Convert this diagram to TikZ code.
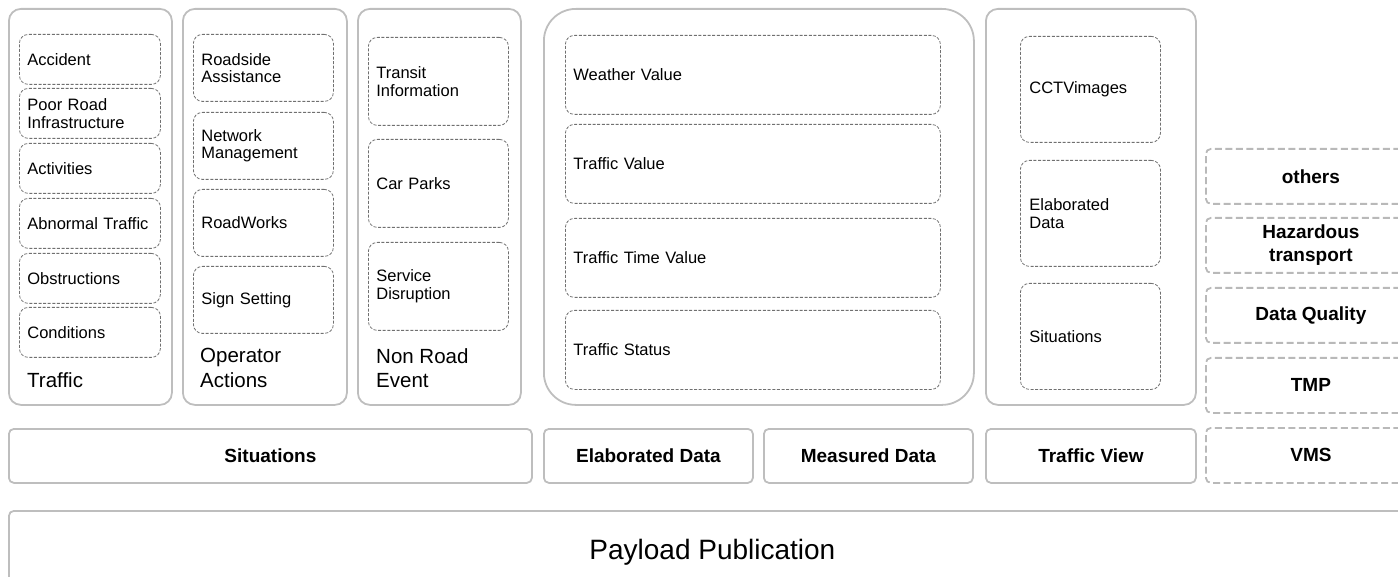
\documentclass[tikz,border=0pt]{standalone}
\usepackage{fontspec}
\setmainfont{Liberation Sans}
\definecolor{framegray}{RGB}{190, 190, 190}
\definecolor{linegray}{RGB}{112, 112, 112}
\definecolor{optgray}{RGB}{185, 185, 185}

\tikzset{
  groupbox/.style={draw=framegray, line width=1.8pt, rounded corners=12pt, anchor=north west, minimum height=396pt, inner sep=0pt},
  item/.style={draw=linegray, line width=0.8pt, dash pattern=on 3pt off 1.6pt, rounded corners=9pt, anchor=north west, align=left, inner xsep=8pt, inner ysep=0pt, font=\fontsize{16.5}{17.5}\selectfont},
  grouplabel/.style={anchor=west, align=left, inner sep=0pt, font=\fontsize{20.5}{24.5}\selectfont},
  layerbox/.style={draw=framegray, line width=1.8pt, rounded corners=5pt, anchor=north west, minimum height=54pt, inner sep=0pt, align=center, font=\fontsize{19}{23}\selectfont\bfseries},
  optbox/.style={draw=optgray, line width=1.8pt, dash pattern=on 7pt off 3.5pt, rounded corners=5pt, anchor=north west, minimum width=210pt, inner sep=0pt, align=center, font=\fontsize{19}{23}\selectfont\bfseries},
}

\begin{document}
\begin{tikzpicture}[x=1pt, y=-1pt]
  \path[use as bounding box, clip] (0,0) rectangle (1398,577);

  % group frames
  \node[groupbox, minimum width=163pt] (traffic) at (8,8) {};
  \node[groupbox, minimum width=164pt] (operator) at (182,8) {};
  \node[groupbox, minimum width=163pt] (nonroad) at (357,8) {};
  \node[groupbox, minimum width=430pt, rounded corners=32pt] (measured) at (543,8) {};
  \node[groupbox, minimum width=210pt] (view) at (985,8) {};

  % traffic situations
  \foreach \nm/\txt/\ty in {acc/Accident/34, poor/{Poor Road\\Infrastructure}/88, act/Activities/143,
      abn/Abnormal Traffic/198, obs/Obstructions/253, cond/Conditions/307}
    \node[item, text width=125pt, minimum height=50pt] (\nm) at (19,\ty) {\txt};
  \node[grouplabel] (trafficlbl) at (27,380) {Traffic};

  % operator actions
  \foreach \nm/\txt/\ty in {road/{Roadside\\Assistance}/34, net/{Network\\Management}/112,
      works/RoadWorks/189, sign/Sign Setting/266}
    \node[item, text width=124pt, minimum height=67pt] (\nm) at (193,\ty) {\txt};
  \node[grouplabel] (operatorlbl) at (200,368) {Operator\\Actions};

  % non road events
  \foreach \nm/\txt/\ty in {transit/{Transit\\Information}/37, parks/Car Parks/139,
      serv/{Service\\Disruption}/242}
    \node[item, text width=124pt, minimum height=88pt] (\nm) at (368,\ty) {\txt};
  \node[grouplabel] (nonroadlbl) at (376,368) {Non Road\\Event};

  % measured values
  \foreach \nm/\txt/\ty in {weather/Weather Value/35, tval/Traffic Value/124,
      ttime/Traffic Time Value/218, tstat/Traffic Status/310}
    \node[item, text width=359pt, minimum height=79pt] (\nm) at (565,\ty) {\txt};

  % traffic view
  \foreach \nm/\txt/\ty in {cctv/CCTVimages/36, velab/{Elaborated\\Data}/160, vsit/Situations/283}
    \node[item, inner xsep=9pt, text width=122pt, minimum height=106pt] (\nm) at (1020,\ty) {\txt};

  % optional parts
  \foreach \nm/\txt/\ty in {others/others/148, hazard/{Hazardous\\transport}/217,
      quality/Data Quality/287, tmp/TMP/357}
    \node[optbox, minimum height=55pt] (\nm) at (1205,\ty) {\txt};

  % publication layers
  \node[layerbox, minimum width=523pt] (situations) at (8,428) {Situations};
  \node[layerbox, minimum width=209pt] (elaborated) at (543,428) {Elaborated Data};
  \node[layerbox, minimum width=209pt] (measuredlay) at (763,428) {Measured Data};
  \node[layerbox, minimum width=210pt] (viewlay) at (985,428) {Traffic View};
  \node[optbox, minimum height=55pt] (vms) at (1205,427) {VMS};

  \node[layerbox, minimum width=1407pt, minimum height=82pt, font=\fontsize{28}{32}\selectfont] (payload) at (8,510) {Payload Publication};
\end{tikzpicture}
\end{document}
